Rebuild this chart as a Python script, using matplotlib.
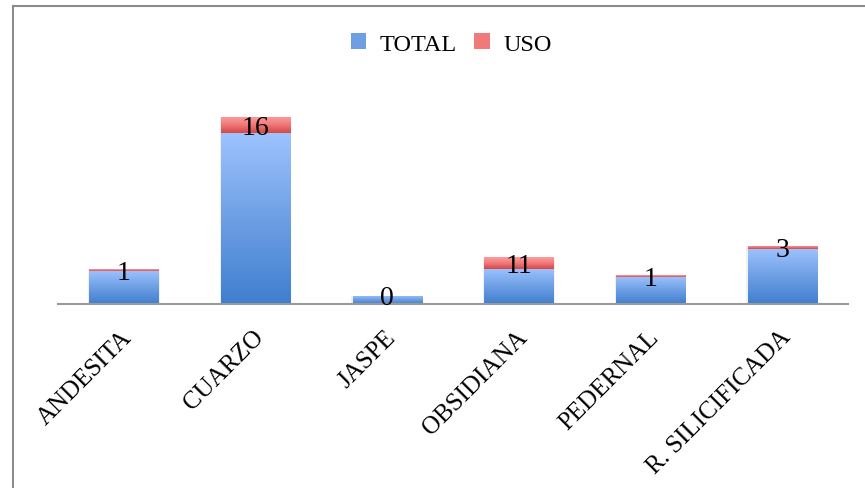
import numpy as np
import matplotlib
matplotlib.use("Agg")
import matplotlib.pyplot as plt
from matplotlib.colors import LinearSegmentedColormap
from matplotlib.patches import Patch
from matplotlib.lines import Line2D
import matplotlib.transforms as mtransforms

# Data
categories = ["ANDESITA", "CUARZO", "JASPE", "OBSIDIANA", "PEDERNAL", "R. SILICIFICADA"]
total = [32, 164, 8, 34, 26, 53]
uso = [1, 16, 0, 11, 1, 3]

W, H = 865, 489
fig = plt.figure(figsize=(W / 100, H / 100), dpi=100)
fig.patch.set_facecolor("white")

ax = fig.add_axes([58 / W, (H - 305) / H, (848 - 58) / W, (305 - 80) / H])

serif = ["Liberation Serif", "DejaVu Serif"]

blue_cmap = LinearSegmentedColormap.from_list("blue", ["#3f7fcf", "#6e9fe4", "#9dc3ff"])
red_cmap = LinearSegmentedColormap.from_list("red", ["#d64545", "#f07a7a", "#ff9d9d"])

x = np.arange(len(categories))
width = 0.525
bars_total = ax.bar(x, total, width, color="none", edgecolor="none")
bars_uso = ax.bar(x, uso, width, bottom=total, color="none", edgecolor="none")

grad = np.linspace(0, 1, 256).reshape(-1, 1)


def fill_gradient(bars, cmap):
    for b in bars:
        x0, y0 = b.get_x(), b.get_y()
        w, h = b.get_width(), b.get_height()
        if h <= 0:
            continue
        # thin segments still show at least one pixel
        h_draw = max(h, 1.6)
        im = ax.imshow(grad, cmap=cmap, aspect="auto", origin="lower",
                       extent=(x0, x0 + w, y0, y0 + h_draw), zorder=2,
                       interpolation="bilinear")
        rect = plt.Rectangle((x0, y0), w, h_draw, transform=ax.transData,
                             facecolor="none", edgecolor="none")
        ax.add_patch(rect)
        im.set_clip_path(rect)
        # soft shadow under the bar
        ax.add_patch(plt.Rectangle((x0 - 0.01, y0 - 0.6), w + 0.02, h_draw + 0.6,
                                   facecolor="#000000", alpha=0.06,
                                   edgecolor="none", zorder=1.5))


fill_gradient(bars_total, blue_cmap)
fill_gradient(bars_uso, red_cmap)

ax.set_xlim(-0.5, len(categories) - 0.5)
ax.set_ylim(0, 225 / 1.04)

# Value labels centred on the USO segment
for xi, t, u in zip(x, total, uso):
    ax.annotate(str(u), (xi, t + u / 2), xytext=(0, -1.5), textcoords="offset points",
                ha="center", va="center", fontsize=20, family=serif,
                color="black", zorder=5)

# Axes styling
for s in ["top", "right", "left"]:
    ax.spines[s].set_visible(False)
ax.spines["bottom"].set_color("#9a9a9a")
ax.spines["bottom"].set_linewidth(1.5)
ax.set_yticks([])
ax.set_xticks(x)
ax.tick_params(axis="x", length=0, pad=15.5)
ax.set_xticklabels(categories, rotation=45, ha="right", va="top",
                   rotation_mode="anchor", fontsize=18, family=serif)
offset = mtransforms.ScaledTranslation(-3 / 100, 0, fig.dpi_scale_trans)
for lbl in ax.get_xticklabels():
    lbl.set_transform(lbl.get_transform() + offset)

# Legend
handles = [Patch(facecolor="#6e9fe4", edgecolor="none", label="TOTAL"),
           Patch(facecolor="#f07a7a", edgecolor="none", label="USO")]
fig.legend(handles=handles, loc="center", bbox_to_anchor=(451 / W, 1 - 45 / H),
           ncol=2, frameon=False, prop={"family": serif, "size": 17.5},
           handlelength=0.65, handleheight=0.65, handletextpad=0.55,
           columnspacing=0.7)

# Outer frame lines (top and left)
fig.add_artist(Line2D([12.5 / W, 12.5 / W], [0, 1 - 6.5 / H], transform=fig.transFigure,
                      color="#8c8c8c", linewidth=1.5))
fig.add_artist(Line2D([12.5 / W, 1], [1 - 6.5 / H, 1 - 6.5 / H], transform=fig.transFigure,
                      color="#8c8c8c", linewidth=1.5))

fig.savefig("out.png", dpi=100, facecolor="white")
